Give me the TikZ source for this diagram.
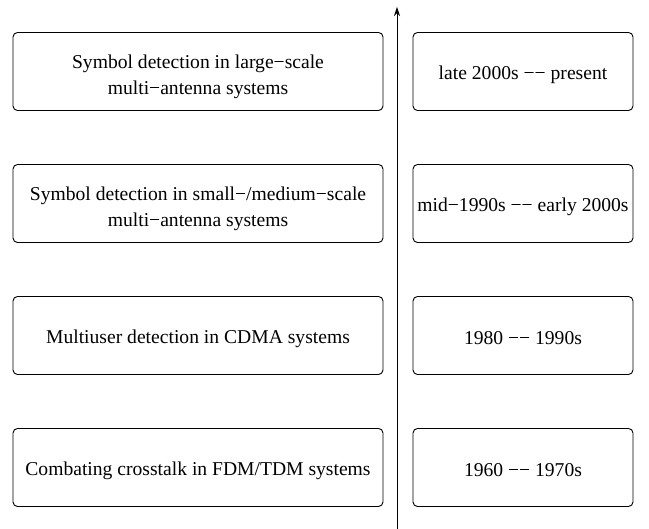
\documentclass[tikz,border=0pt]{standalone}
\usepackage{fontspec}
\setmainfont{Liberation Serif}
\usetikzlibrary{arrows.meta}
\begin{document}
\begin{tikzpicture}[x=1pt,y=1pt,
  evbox/.style={draw, rounded corners=4.5pt, line width=0.9pt, inner sep=0pt, minimum height=78pt},
  leftbox/.style={evbox, minimum width=370pt},
  rightbox/.style={evbox, minimum width=220pt},
  txt/.style={align=center, inner sep=0pt, font=\fontsize{19.6}{26}\selectfont},
  txtone/.style={txt, yshift=-3pt},
  txttwo/.style={txt, yshift=-5pt}]
\useasboundingbox (0,0) rectangle (649,529);
\node[leftbox] (l1) at (198,457.5) {};
\node[leftbox] (l2) at (198,325.5) {};
\node[leftbox] (l3) at (198,193.5) {};
\node[leftbox] (l4) at (198,61.5) {};
\node[rightbox] (r1) at (523,457.5) {};
\node[rightbox] (r2) at (523,325.5) {};
\node[rightbox] (r3) at (523,193.5) {};
\node[rightbox] (r4) at (523,61.5) {};
\node[txttwo] (l1t) at (l1) {Symbol detection in large−scale\\multi−antenna systems};
\node[txttwo] (l2t) at (l2) {Symbol detection in small−/medium−scale\\multi−antenna systems};
\node[txtone] (l3t) at (l3) {Multiuser detection in CDMA systems};
\node[txtone] (l4t) at (l4) {Combating crosstalk in FDM/TDM systems};
\node[txtone] (r1t) at (r1) {late 2000s −− present};
\node[txtone] (r2t) at (r2) {mid−1990s −− early 2000s};
\node[txtone] (r3t) at (r3) {1980 −− 1990s};
\node[txtone] (r4t) at (r4) {1960 −− 1970s};
\coordinate (abot) at (397,0);
\coordinate (atop) at (397,522);
\draw[line width=0.9pt, -{Stealth[length=9pt,width=6pt]}] (abot) -- (atop);
\end{tikzpicture}
\end{document}
